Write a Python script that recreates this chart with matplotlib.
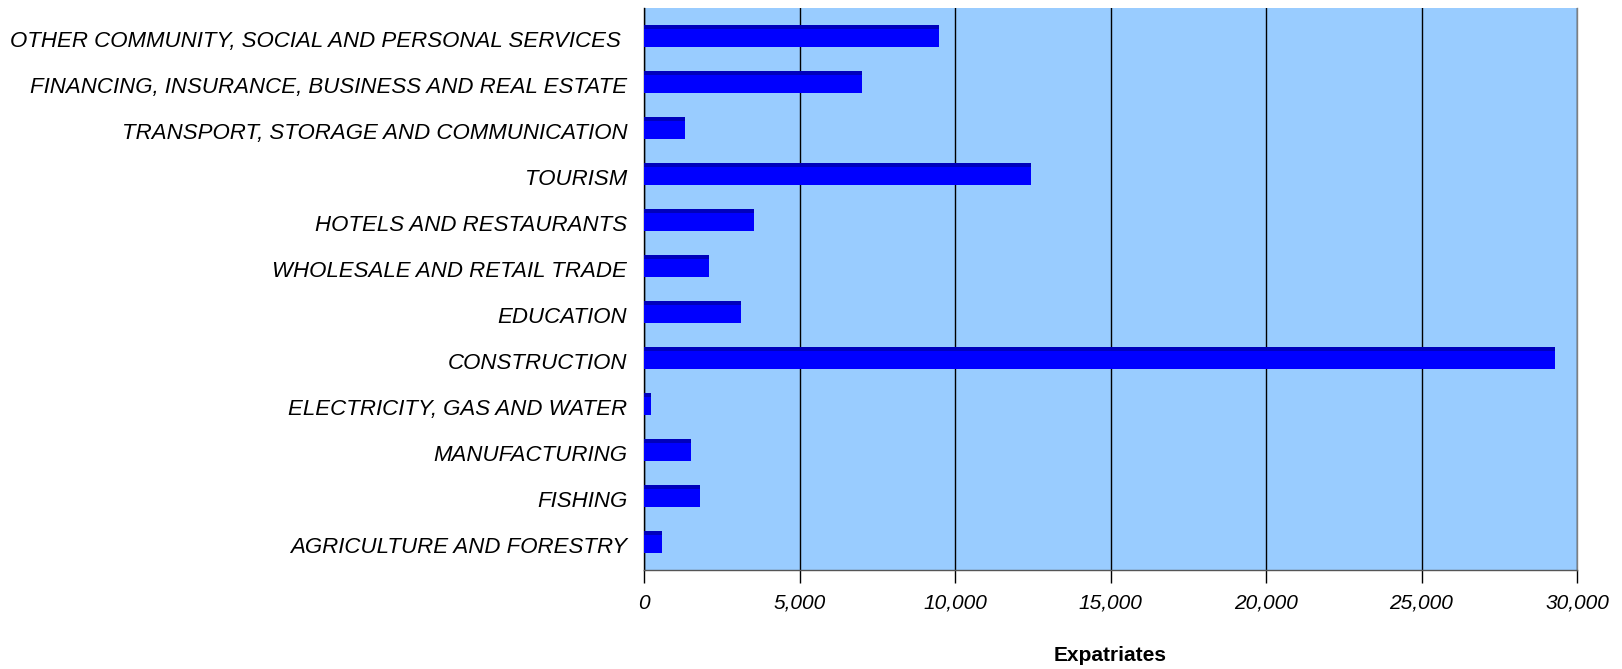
import matplotlib
matplotlib.use("Agg")
import matplotlib.pyplot as plt
import matplotlib.transforms as mtransforms
import numpy as np

categories = [
    "AGRICULTURE AND FORESTRY",
    "FISHING",
    "MANUFACTURING",
    "ELECTRICITY, GAS AND WATER",
    "CONSTRUCTION",
    "EDUCATION",
    "WHOLESALE AND RETAIL TRADE",
    "HOTELS AND RESTAURANTS",
    "TOURISM",
    "TRANSPORT, STORAGE AND COMMUNICATION",
    "FINANCING, INSURANCE, BUSINESS AND REAL ESTATE",
    "OTHER COMMUNITY, SOCIAL AND PERSONAL SERVICES ",
]
expatriates = [570, 1790, 1510, 215, 29290, 3120, 2080, 3540, 12440, 1310, 7000, 9480]
xticks = [0, 5000, 10000, 15000, 20000, 25000, 30000]
xticklabels = ["0", "5,000", "10,000", "15,000", "20,000", "25,000", "30,000"]

plt.rcParams['font.family'] = ['Liberation Sans', 'DejaVu Sans']

fig = plt.figure(figsize=(16.22, 6.69), dpi=100)
ax = fig.add_axes([644/1622, 1 - 570/669, (1577-644)/1622, (570-8)/669])
ax.set_facecolor("#99CCFF")

y = np.arange(len(categories))
bh = 0.49
ax.barh(y, expatriates, height=bh, color="#0000FF", zorder=3, linewidth=0)
strip = 0.085
ax.barh(y + bh/2 - strip/2, expatriates, height=strip, color="#0000BB", zorder=4, linewidth=0)

ax.set_xlim(0, 30000)
ax.set_ylim(-0.61, len(categories) - 1 + 0.61)
ax.set_xticks(xticks)
ax.set_xticklabels(xticklabels, fontsize=15, style="italic")
ax.set_yticks(y)
ax.set_yticklabels(categories, fontsize=16, style="italic")
ax.tick_params(axis="y", length=0, pad=12)
ax.tick_params(axis="x", length=9, width=1, color="black", pad=8)
ax.grid(axis="x", color="black", linewidth=1, zorder=1)
ax.set_axisbelow(True)

shift = mtransforms.ScaledTranslation(0, -3/100, fig.dpi_scale_trans)
for lab in ax.get_yticklabels():
    lab.set_transform(lab.get_transform() + shift)

ax.spines["top"].set_visible(False)
ax.spines["left"].set_color("black")
ax.spines["right"].set_color("#808080")
ax.spines["bottom"].set_color("#555555")
for s in ["left", "right", "bottom"]:
    ax.spines[s].set_linewidth(1)

ax.set_xlabel("Expatriates", fontsize=15, fontweight="bold", labelpad=24)

fig.savefig("out.png", dpi=100)
